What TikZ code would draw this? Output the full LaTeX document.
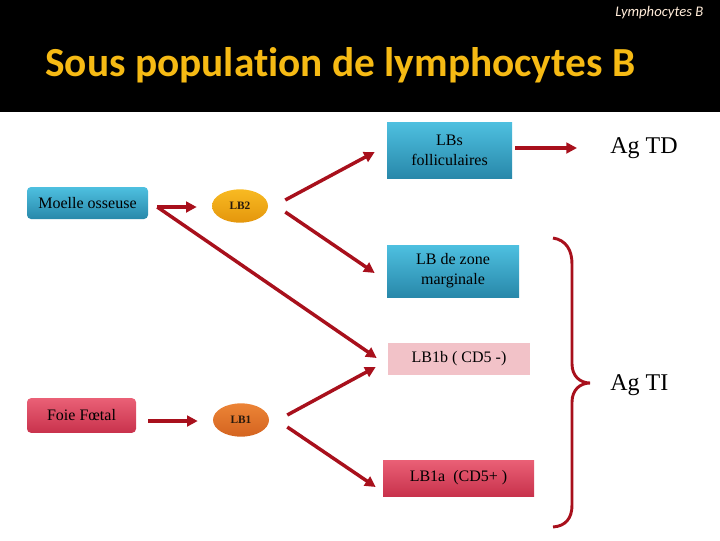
\documentclass[tikz,border=0pt]{standalone}
\usepackage{fontspec}
\setmainfont{Liberation Serif}
\newfontfamily\titlefont[Ligatures=NoCommon]{Carlito}
\usetikzlibrary{shapes.geometric,arrows.meta}
\definecolor{arrowred}{RGB}{168,16,28}
\definecolor{blueA}{RGB}{78,192,224}
\definecolor{blueB}{RGB}{40,136,170}
\definecolor{pinkA}{RGB}{234,96,118}
\definecolor{pinkB}{RGB}{200,50,76}
\definecolor{rose}{RGB}{242,194,200}
\definecolor{goldA}{RGB}{248,186,34}
\definecolor{goldB}{RGB}{228,150,12}
\definecolor{rustA}{RGB}{236,132,54}
\definecolor{rustB}{RGB}{212,100,32}
\definecolor{titleyellow}{RGB}{246,186,20}

\begin{document}
\begin{tikzpicture}[x=0.75pt,y=-0.75pt,
 arr/.style={draw=arrowred,line width=2.6pt,-{Triangle[length=8pt,width=8pt]}},
 box/.style={inner sep=2pt,align=center,font=\fontsize{12}{15}\selectfont},
 bluebox/.style={box,top color=blueA,bottom color=blueB},
 redbox/.style={box,top color=pinkA,bottom color=pinkB},
 cell/.style={ellipse,minimum width=42pt,minimum height=25pt,inner sep=0pt,
   text=black!80!brown,font=\fontsize{8.5}{10}\selectfont\bfseries}]
\useasboundingbox (0,0) rectangle (720,540);
\fill[black] (0,0) rectangle (720,112);
\node[anchor=base west,inner sep=0pt,text=titleyellow,font=\titlefont\fontsize{31}{34}\selectfont\bfseries]
 (title) at (45,76) {Sous populat\kern0pt ion de lymphocytes B};
\node[anchor=east,text=orange!15,font=\titlefont\fontsize{11}{12}\selectfont\itshape]
 (corner) at (708,13) {Lymphocytes B};

% origins
\node[bluebox,rounded corners=3pt,minimum width=90.75pt,minimum height=24pt] (moelle) at (87.5,203) {Moelle osseuse};
\node[redbox,rounded corners=3pt,minimum width=81.75pt,minimum height=26pt] (foie) at (81.5,415.5) {Foie F\oe tal};
\node[cell,top color=goldA,bottom color=goldB] (lb2) at (240,206) {LB2};
\node[cell,top color=rustA,bottom color=rustB] (lb1) at (241,420) {LB1};

% subpopulations
\node[bluebox,minimum width=93.75pt,minimum height=42pt] (lbs) at (449.5,150) {LBs\\folliculaires};
\node[bluebox,minimum width=99pt,minimum height=39pt] (zone) at (453,271) {LB de zone\\marginale};
\node[box,fill=rose,minimum width=106.5pt,minimum height=24pt] (lb1b) at (459,359) {LB1b ( CD5 -)};
\node[redbox,minimum width=113.25pt,minimum height=27pt] (lb1a) at (458.5,478) {LB1a \ (CD5+ )};
\node[inner sep=0pt,anchor=west,font=\fontsize{18}{20}\selectfont] (agtd) at (610,148) {Ag TD};
\node[inner sep=0pt,anchor=west,font=\fontsize{18}{20}\selectfont] (agti) at (610,385) {Ag TI};

% arrows
\draw[arr] ([shift={(9,4)}]moelle.east) -- ([shift={(-15,1)}]lb2.west);
\draw[arr] ([shift={(9,4)}]moelle.east) -- ([shift={(-11,-1)}]lb1b.west);
\draw[arr] ([shift={(12,5.5)}]foie.east) -- ([shift={(-15,1)}]lb1.west);
\draw[arr] ([shift={(17,-6)}]lb2.east) -- ([shift={(-12,2)}]lbs.west);
\draw[arr] ([shift={(17,6)}]lb2.east) -- ([shift={(-12,2)}]zone.west);
\draw[arr] ([shift={(18,-5)}]lb1.east) -- ([shift={(-12,8)}]lb1b.west);
\draw[arr] ([shift={(18,7)}]lb1.east) -- ([shift={(-7,9)}]lb1a.west);
\draw[arr] ([shift={(3,-2)}]lbs.east) -- ([shift={(-33,0)}]agtd.west);

% brace
\draw[arrowred,line width=2.2pt] (553,238)
 .. controls (566,240) and (572,250) .. (572,264) -- (572,364)
 .. controls (572,376) and (580,383) .. (590,383)
 .. controls (580,383) and (572,390) .. (572,402) -- (572,505)
 .. controls (572,518) and (566,526) .. (553,527);
\end{tikzpicture}
\end{document}
